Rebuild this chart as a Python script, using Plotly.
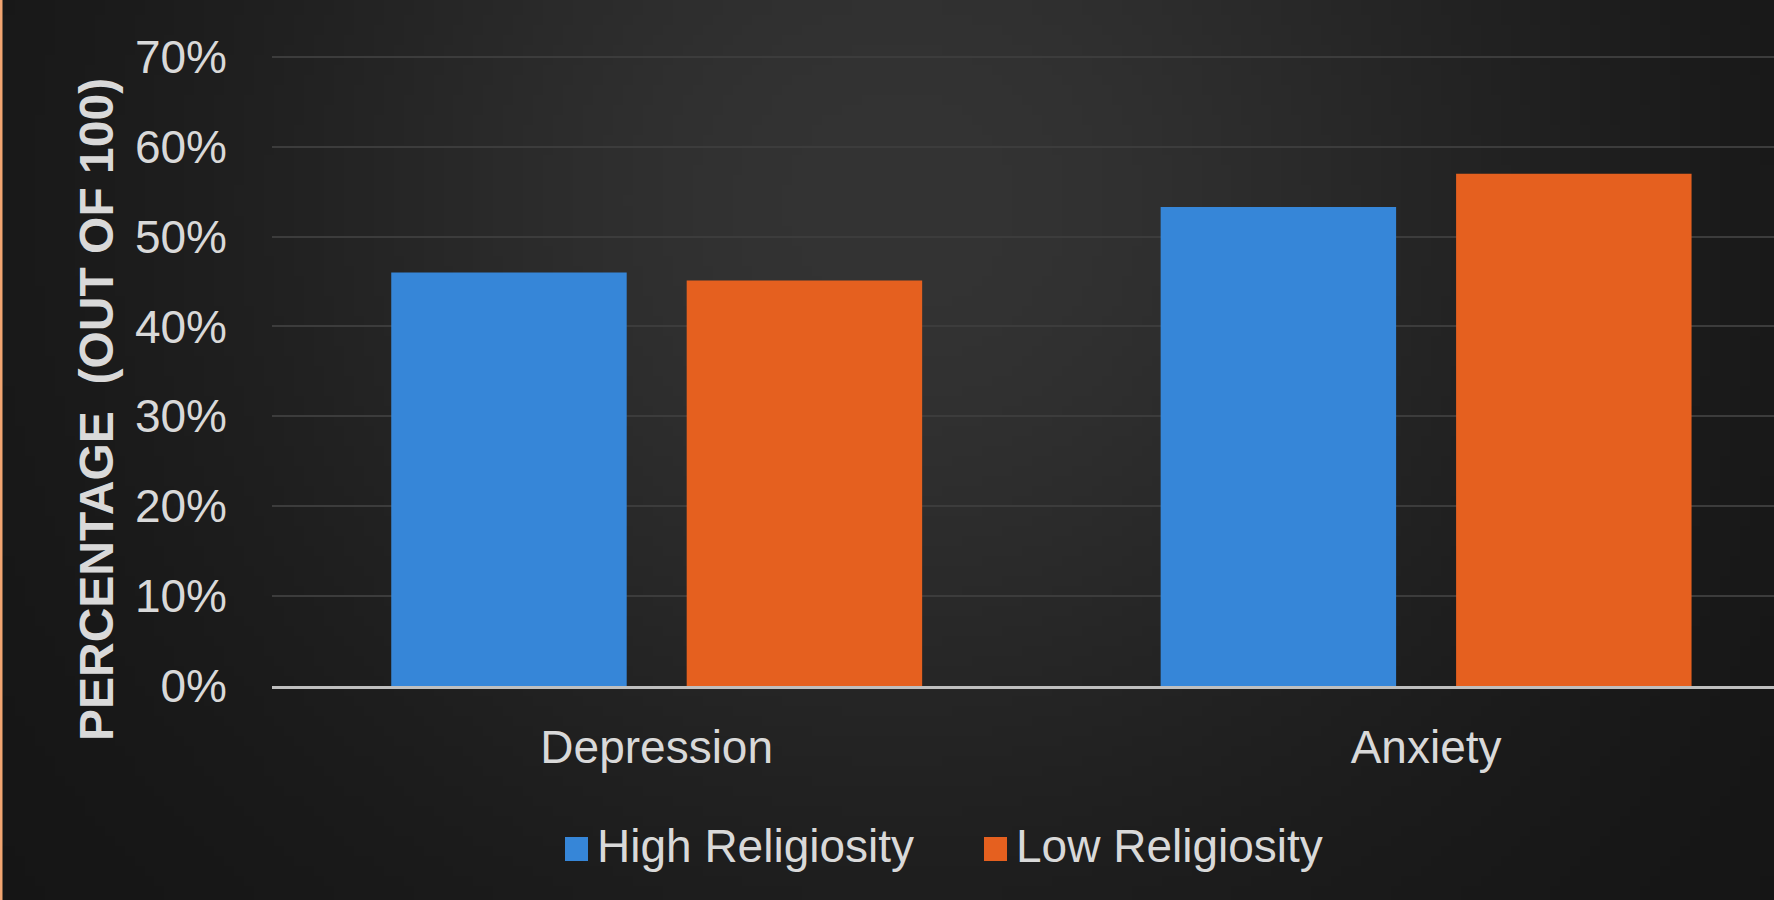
import base64
import struct
import zlib

import numpy as np
import plotly.graph_objects as go

# ---------------- data ----------------
categories = ["Depression", "Anxiety"]
high_religiosity = [0.46, 0.533]
low_religiosity = [0.451, 0.57]
series_names = ["High Religiosity", "Low Religiosity"]
y_tick_values = [0, 0.1, 0.2, 0.3, 0.4, 0.5, 0.6, 0.7]
y_title = "PERCENTAGE  (OUT OF 100)"

# ---------------- geometry ----------------
W, H = 1774, 900
ML, MR, MT, MB = 272, 0, 55, 214
PW, PH = W - ML - MR, H - MT - MB
YMAX = 0.702

FONT = "Liberation Sans, Arial, sans-serif"
TXT = "#d9d9d9"
BLUE = "#3686d8"
ORANGE = "#e5601f"


def px(x):
    return (x - ML) / PW


def py(y):
    return (H - MB - y) / PH


# ---------------- background gradient image ----------------
def make_png(arr):
    h, w, _ = arr.shape
    raw = b"".join(b"\x00" + arr[i].astype(np.uint8).tobytes() for i in range(h))

    def chunk(t, d):
        c = struct.pack(">I", len(d)) + t + d
        return c + struct.pack(">I", zlib.crc32(t + d) & 0xFFFFFFFF)

    return (b"\x89PNG\r\n\x1a\n"
            + chunk(b"IHDR", struct.pack(">IIBBBBB", w, h, 8, 2, 0, 0, 0))
            + chunk(b"IDAT", zlib.compress(raw, 9))
            + chunk(b"IEND", b""))


gw, gh = 178, 90
gx, gy = np.meshgrid(np.linspace(0, W, gw), np.linspace(0, H, gh))
d2 = ((gx - 900) / 980) ** 2 + ((gy - 200) / 950) ** 2
val = 20 + 32 * np.exp(-2.1 * d2)
img = np.stack([val, val, val], axis=-1)
bg_uri = "data:image/png;base64," + base64.b64encode(make_png(img)).decode()

# ---------------- figure ----------------
fig = go.Figure()
fig.add_trace(go.Bar(x=categories, y=high_religiosity, name=series_names[0],
                     marker=dict(color=BLUE, line=dict(width=0)), showlegend=False))
fig.add_trace(go.Bar(x=categories, y=low_religiosity, name=series_names[1],
                     marker=dict(color=ORANGE, line=dict(width=0)), showlegend=False))

fig.update_layout(
    width=W, height=H,
    margin=dict(l=ML, r=MR, t=MT, b=MB, pad=0),
    paper_bgcolor="#1e1e1e",
    plot_bgcolor="rgba(0,0,0,0)",
    barmode="group",
    bargap=0.232,
    bargroupgap=0.203,
    font=dict(family=FONT, color=TXT, size=46),
    images=[dict(source=bg_uri, xref="paper", yref="paper",
                 x=px(0), y=py(0), sizex=W / PW, sizey=H / PH,
                 xanchor="left", yanchor="top", sizing="stretch", layer="below")],
)

fig.update_xaxes(
    range=[-0.5, -0.5 + PW / 769.4],
    showgrid=False, zeroline=False,
    showline=True, linecolor="#bfbfbf", linewidth=3,
    ticks="", ticklabelstandoff=19,
    tickfont=dict(family=FONT, size=46, color=TXT),
)
fig.update_yaxes(
    range=[0, YMAX], tickvals=y_tick_values, tickformat=".0%",
    showgrid=True, gridcolor="#3c3c3c", gridwidth=2,
    zeroline=False, showline=False, ticks="",
    ticklabelstandoff=44,
    tickfont=dict(family=FONT, size=46, color=TXT),
)

# y-axis title
fig.add_annotation(text=y_title, xref="paper", yref="paper", x=px(96), y=py(410),
                   textangle=-90, showarrow=False, xanchor="center", yanchor="middle",
                   font=dict(family=FONT, size=48, color=TXT, weight="bold"))

# legend (manual, to match large swatches)
legend_items = [
    (series_names[0], BLUE, 565, 597),
    (series_names[1], ORANGE, 984, 1016),
]
for name, col, sx, tx in legend_items:
    fig.add_shape(type="rect", xref="paper", yref="paper",
                  x0=px(sx), x1=px(sx + 23), y0=py(861), y1=py(837),
                  fillcolor=col, line=dict(width=0))
    fig.add_annotation(text=name, xref="paper", yref="paper", x=px(tx - 2), y=py(846),
                       showarrow=False, xanchor="left", yanchor="middle",
                       font=dict(family=FONT, size=46, color=TXT))

# left accent strip
fig.add_shape(type="rect", xref="paper", yref="paper",
              x0=px(0), x1=px(2.5), y0=py(H), y1=py(0),
              fillcolor="#f2a571", line=dict(width=0), layer="above")

fig.write_html("out.html")
